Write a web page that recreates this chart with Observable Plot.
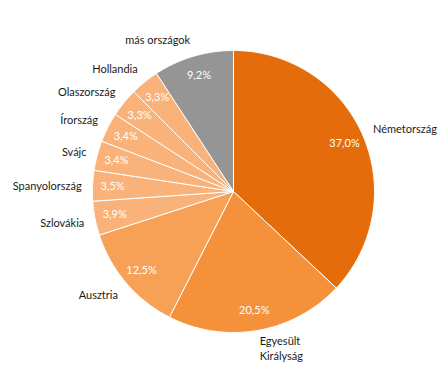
<!DOCTYPE html>
<html><head><meta charset="utf-8">
<script src="https://cdn.jsdelivr.net/npm/d3@7"></script>
<script src="https://cdn.jsdelivr.net/npm/@observablehq/plot@0.6"></script>
<style>body{margin:0;background:#fff}</style>
</head><body><div id="chart"></div>
<script>
const countries = ["Németország","Egyesült\nKirályság","Ausztria","Szlovákia","Spanyolország","Svájc","Írország","Olaszország","Hollandia","más országok"];
const shares = [37.0, 20.5, 12.5, 3.9, 3.5, 3.4, 3.4, 3.3, 3.3, 9.2];
const colors = ["#E46C0A","#F6913B","#F7A157","#F9B279","#F9B279","#F9B279","#F9B279","#F9B279","#F9B279","#959595"];

const total = d3.sum(shares);
let acc = 0;
const slices = shares.map((v, i) => {
  const a0 = acc / total * 2 * Math.PI; acc += v;
  const a1 = acc / total * 2 * Math.PI;
  return {i, name: countries[i], value: v, color: colors[i], a0, a1, mid: (a0 + a1) / 2};
});
const poly = slices.flatMap(s => {
  const n = Math.max(2, Math.ceil((s.a1 - s.a0) / 0.01));
  const pts = [{i: s.i, color: s.color, x: 0, y: 0}];
  for (let k = 0; k <= n; k++) {
    const a = s.a0 + (s.a1 - s.a0) * k / n;
    pts.push({i: s.i, color: s.color, x: Math.sin(a), y: Math.cos(a)});
  }
  pts.push({i: s.i, color: s.color, x: 0, y: 0});
  return pts;
});
const pct = s => s.value.toFixed(1).replace(".", ",") + "%";
const lx = s => 1.078 * Math.sin(s.mid), ly = s => 1.125 * Math.cos(s.mid);
const side = s => Math.sin(s.mid) > 0.1 ? "start" : Math.sin(s.mid) < -0.1 ? "end" : "middle";

const chart = Plot.plot({
  width: 448, height: 374,
  marginLeft: 92, marginRight: 74, marginTop: 50, marginBottom: 42,
  x: {domain: [-1, 1], axis: null},
  y: {domain: [-1, 1], axis: null},
  color: {type: "identity"},
  style: {fontFamily: "Lato, 'Open Sans', sans-serif", fontSize: "11px", background: "#fff"},
  marks: [
    Plot.line(poly, {x: "x", y: "y", z: "i", fill: "color", stroke: "white", strokeWidth: 1, strokeLinejoin: "round"}),
    Plot.text(slices, {x: s => 0.858 * Math.sin(s.mid), y: s => 0.858 * Math.cos(s.mid), text: pct, fill: "white", fontSize: 11}),
    Plot.text(slices.filter(s => side(s) === "start"), {x: lx, y: ly, text: "name", textAnchor: "start", fill: "#1a1a1a", fontSize: 11, lineHeight: 1.36}),
    Plot.text(slices.filter(s => side(s) === "end"), {x: lx, y: ly, text: "name", textAnchor: "end", fill: "#1a1a1a", fontSize: 11, lineHeight: 1.36}),
    Plot.text(slices.filter(s => side(s) === "middle"), {x: lx, y: ly, text: "name", textAnchor: "start", dx: -10, fill: "#1a1a1a", fontSize: 11, lineHeight: 1.36})
  ]
});
document.getElementById("chart").append(chart);
</script>
</body></html>
